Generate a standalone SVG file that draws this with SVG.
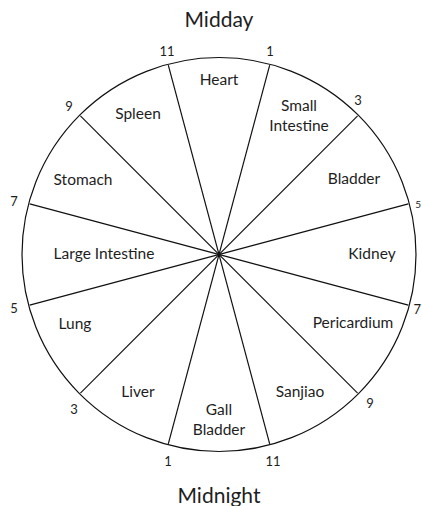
<svg xmlns="http://www.w3.org/2000/svg" width="422" height="506" viewBox="0 0 422 506">
<style>
.t{font-family:Lato,"Open Sans","Noto Sans",sans-serif;fill:#1e1e1e;text-anchor:middle}
.organ{font-size:15.5px}
.num{font-size:13px}
.title{font-size:21px}
.ln{stroke:#111;stroke-width:1.2;fill:none}
</style>
<rect width="422" height="506" fill="#fff"/>
<g id="connectors">
<circle class="ln" cx="219" cy="254.5" r="197"/>
<line class="ln" x1="168.3" y1="65.2" x2="269.7" y2="443.8"/>
<line class="ln" x1="269.7" y1="65.2" x2="168.3" y2="443.8"/>
<line class="ln" x1="357.6" y1="115.9" x2="80.4" y2="393.1"/>
<line class="ln" x1="80.4" y1="115.9" x2="357.6" y2="393.1"/>
<line class="ln" x1="408.3" y1="203.8" x2="29.7" y2="305.2"/>
<line class="ln" x1="29.7" y1="203.8" x2="408.3" y2="305.2"/>
</g>
<g id="titles">
<text class="t title" x="219" y="27">Midday</text>
<text class="t title" x="219" y="503">Midnight</text>
</g>
<g id="heart"><text class="t organ" x="219" y="85">Heart</text></g>
<g id="small-intestine"><text class="t organ" x="299" y="111">Small</text><text class="t organ" x="299" y="131">Intestine</text></g>
<g id="bladder"><text class="t organ" x="354" y="184">Bladder</text></g>
<g id="kidney"><text class="t organ" x="372" y="259">Kidney</text></g>
<g id="pericardium"><text class="t organ" x="353" y="328">Pericardium</text></g>
<g id="sanjiao"><text class="t organ" x="300" y="397">Sanjiao</text></g>
<g id="gall-bladder"><text class="t organ" x="219" y="415">Gall</text><text class="t organ" x="219" y="435">Bladder</text></g>
<g id="liver"><text class="t organ" x="138" y="397">Liver</text></g>
<g id="lung"><text class="t organ" x="75" y="329">Lung</text></g>
<g id="large-intestine"><text class="t organ" x="104" y="259">Large Intestine</text></g>
<g id="stomach"><text class="t organ" x="83" y="185">Stomach</text></g>
<g id="spleen"><text class="t organ" x="138" y="119">Spleen</text></g>
<g id="hours">
<text class="t num" x="167" y="56">11</text>
<text class="t num" x="270" y="56">1</text>
<text class="t num" x="358" y="105">3</text>
<text class="t num" x="69" y="111">9</text>
<text class="t num" x="14" y="206">7</text>
<text class="t num" x="14" y="313">5</text>
<text class="t num" x="421" y="208" style="font-size:10px;text-anchor:end">5</text>
<text class="t num" x="421" y="314" style="text-anchor:end">7</text>
<text class="t num" x="74" y="414">3</text>
<text class="t num" x="370" y="408">9</text>
<text class="t num" x="168" y="466">1</text>
<text class="t num" x="273" y="466">11</text>
</g>
</svg>
